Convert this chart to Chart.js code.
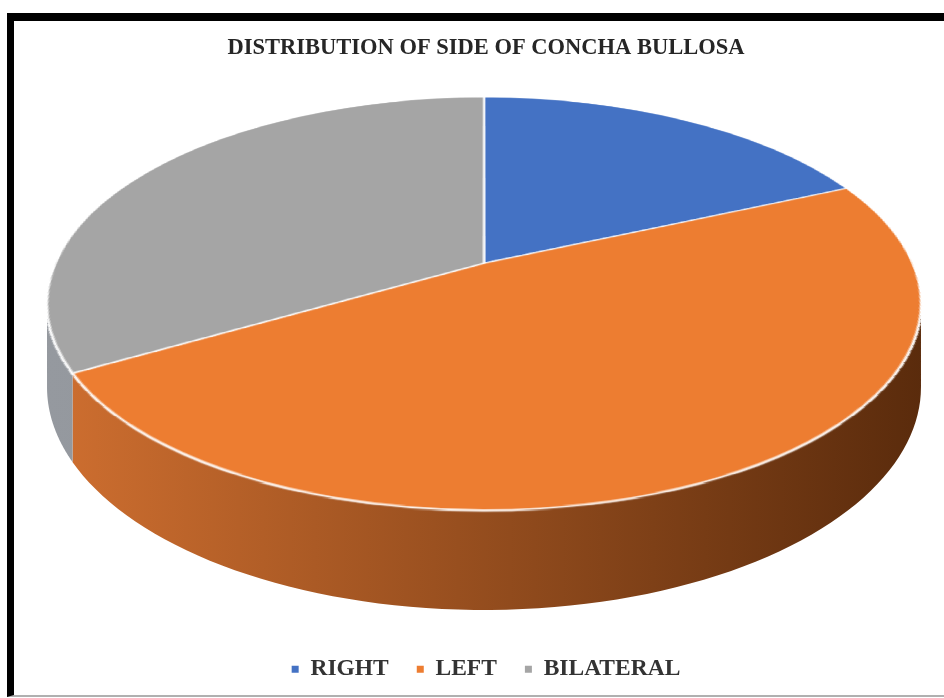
<!DOCTYPE html>
<html>
<head>
<meta charset="utf-8">
<script src="https://cdn.jsdelivr.net/npm/chart.js@4.4.1/dist/chart.umd.min.js"></script>
<style>
  html, body { margin: 0; padding: 0; background: #ffffff; overflow: hidden; }
  #wrap { position: relative; width: 944px; height: 698px; }
  #frame {
    position: absolute; left: 7px; top: 13px; width: 960px; height: 674px;
    border-top: 8px solid #000; border-left: 7px solid #000; border-bottom: 2px solid #b0b0b0;
    pointer-events: none;
  }
  canvas { position: absolute; left: 0; top: 0; }
</style>
</head>
<body>
<div id="wrap">
  <canvas id="pie" width="944" height="698"></canvas>
  <div id="frame"></div>
</div>
<script>
// ---------------------------
//   DATOS
// ---------------------------
const labels = ["RIGHT", "LEFT", "BILATERAL"];
const values = [11, 29, 20];

// ---------------------------
//   ESTILOS
// ---------------------------
const topColors = ["#4472c4", "#ed7d31", "#a5a5a5"];
const wallLeft  = ["#2f5597", "#cf6f30", "#95999f"];
const wallRight = ["#1f3864", "#5a2b0c", "#868a90"];

// perspectiva del "3D" (posición en pantalla)
const view = { cx: 484, a: -147, b: 263, c: 0.196, k: 428.5, depth: 80.4 };

function proj(u, v, z) {
  const w = 1 + view.c * v;
  return { x: view.cx + view.k * u / w, y: (view.a * v + view.b) / w + view.depth * z / w };
}

// plugin: toma el pie dibujado por Chart.js y lo inclina con perspectiva
const tiltPlugin = {
  id: "tilt3d",
  afterDatasetsDraw(chart) {
    const ctx = chart.ctx;
    const arcs = chart.getDatasetMeta(0).data;
    const ox = arcs[0].x, oy = arcs[0].y, R = arcs[0].outerRadius;
    const R2 = Math.ceil(R + 3);
    const size = 2 * R2;

    const off = document.createElement("canvas");
    off.width = size; off.height = size;
    off.getContext("2d").drawImage(chart.canvas, ox - R2, oy - R2, size, size, 0, 0, size, size);

    ctx.save();
    ctx.clearRect(ox - R2, oy - R2, size, size);

    // paredes laterales visibles
    const A = Math.asin(view.c), B = Math.PI - A;
    arcs.forEach((arc, i) => {
      const lo = Math.max(arc.startAngle, A);
      const hi = Math.min(arc.endAngle, B);
      if (hi <= lo) return;
      const steps = 80;
      ctx.beginPath();
      for (let s = 0; s <= steps; s++) {
        const t = lo + (hi - lo) * s / steps;
        const p = proj(Math.cos(t), -Math.sin(t), 0);
        if (s === 0) ctx.moveTo(p.x, p.y); else ctx.lineTo(p.x, p.y);
      }
      for (let s = steps; s >= 0; s--) {
        const t = lo + (hi - lo) * s / steps;
        const p = proj(Math.cos(t), -Math.sin(t), 1);
        ctx.lineTo(p.x, p.y);
      }
      ctx.closePath();
      const g = ctx.createLinearGradient(view.cx - 440, 0, view.cx + 440, 0);
      g.addColorStop(0, wallLeft[i]);
      g.addColorStop(1, wallRight[i]);
      ctx.fillStyle = g;
      ctx.fill();
    });

    // cara superior, fila por fila
    for (let j = 0; j < size; j++) {
      const v0 = (R2 - j) / R, v1 = (R2 - j - 1) / R;
      if (v1 > 1.03 || v0 < -1.03) continue;
      const vm = (v0 + v1) / 2;
      const w = 1 + view.c * vm;
      const y0 = (view.a * v0 + view.b) / (1 + view.c * v0);
      const y1 = (view.a * v1 + view.b) / (1 + view.c * v1);
      const half = view.k * (R2 / R) / w;
      ctx.drawImage(off, 0, j, size, 1, view.cx - half, y0, 2 * half, (y1 - y0) + 0.6);
    }
    ctx.restore();
  }
};

const serif = "'Liberation Serif', 'Times New Roman', serif";

new Chart(document.getElementById("pie"), {
  type: "pie",
  data: {
    labels: labels,
    datasets: [{
      data: values,
      backgroundColor: topColors,
      borderColor: "#ffffff",
      borderWidth: 1.5
    }]
  },
  options: {
    responsive: false,
    animation: false,
    devicePixelRatio: 1,
    events: [],
    layout: { padding: { top: 31, bottom: 7, left: 34, right: 6 } },
    plugins: {
      title: {
        display: true,
        text: "DISTRIBUTION OF SIDE OF CONCHA BULLOSA",
        color: "#262626",
        font: { family: serif, size: 22.5, weight: "bold" },
        padding: { top: 4, bottom: 10 }
      },
      legend: {
        position: "bottom",
        labels: {
          color: "#333333",
          boxWidth: 7,
          boxHeight: 7,
          padding: 28,
          font: { family: serif, size: 23.5, weight: "bold" },
          generateLabels(chart) {
            return Chart.overrides.pie.plugins.legend.labels.generateLabels(chart)
              .map(l => ({ ...l, lineWidth: 0, strokeStyle: "rgba(0,0,0,0)" }));
          }
        }
      },
      tooltip: { enabled: false }
    }
  },
  plugins: [tiltPlugin]
});
</script>
</body>
</html>
